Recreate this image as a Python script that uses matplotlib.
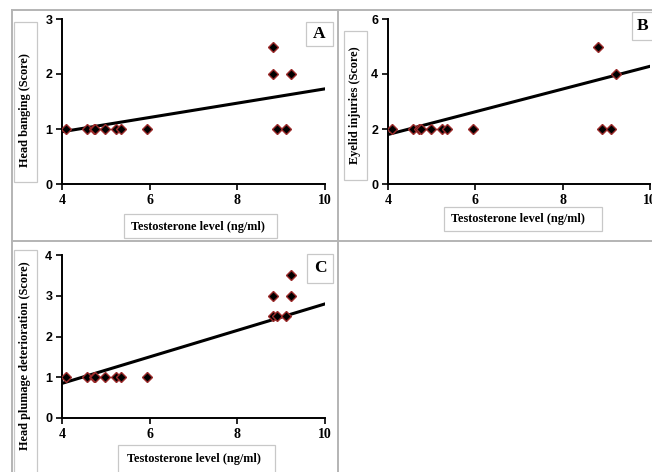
import matplotlib
matplotlib.use("Agg")
import matplotlib.pyplot as plt
from matplotlib.patches import Rectangle
from matplotlib.lines import Line2D

# Testosterone (ng/ml) vs behaviour scores
testo_A = [4.09, 4.58, 4.72, 4.76, 4.99, 5.23, 5.34, 5.94, 8.82, 8.82, 8.91, 9.11, 9.22]
head_banging = [1, 1, 1, 1, 1, 1, 1, 1, 2.5, 2, 1, 1, 2]

testo_B = [4.09, 4.58, 4.72, 4.76, 4.99, 5.23, 5.34, 5.94, 8.82, 8.91, 9.11, 9.22]
eyelid = [2, 2, 2, 2, 2, 2, 2, 2, 5, 2, 2, 4]

testo_C = [4.09, 4.58, 4.72, 4.76, 4.99, 5.23, 5.34, 5.94, 8.82, 8.82, 8.91, 9.11, 9.22, 9.22]
plumage = [1, 1, 1, 1, 1, 1, 1, 1, 3, 2.5, 2.5, 2.5, 3.5, 3]

# linear trend lines (end points as drawn in the original)
trend_x = [4, 10]
trend_A = [0.95, 1.73]
trend_B = [1.80, 4.28]
trend_C = [0.85, 2.80]

xticks = [4, 6, 8, 10]
yticks_A = [0, 1, 2, 3]
yticks_B = [0, 2, 4, 6]
yticks_C = [0, 1, 2, 3, 4]

W, H = 652, 472
fig = plt.figure(figsize=(W / 100, H / 100), dpi=100)
fig.patch.set_facecolor("white")

serif = "Liberation Serif"
sans = "Liberation Sans"
grey = "#b4b4b4"


def px_axes(x0, y0, x1, y1):
    # pixel box (top-left origin) -> figure axes
    return fig.add_axes([x0 / W, 1 - y1 / H, (x1 - x0) / W, (y1 - y0) / H])


def px_rect(x0, y0, x1, y1, ec="#c8c8c8"):
    r = Rectangle((x0 / W, 1 - y1 / H), (x1 - x0) / W, (y1 - y0) / H,
                  transform=fig.transFigure, facecolor="white", edgecolor=ec, lw=0.9)
    fig.add_artist(r)


def px_line(xs, ys):
    fig.add_artist(Line2D([x / W for x in xs], [1 - y / H for y in ys],
                          transform=fig.transFigure, color=grey, lw=1.4))


def px_text(x, y, s, size=8.8, rot=0):
    fig.text(x / W, 1 - y / H, s, ha="center", va="center", rotation=rot,
             fontsize=size, fontweight="bold", family=serif)


# table-like frame around the panels
px_line([12, 652], [10, 10])
px_line([12, 652], [241, 241])
px_line([12, 12], [10, 472])
px_line([338, 338], [10, 472])


def panel(ax, xs, ys, tl, yticks, ymax):
    ax.plot(trend_x, tl, color="black", lw=2.2, zorder=2)
    ax.plot(xs, ys, linestyle="none", marker="D", ms=4.6, mfc="black",
            mec="#9c2b2b", mew=1.0, zorder=3)
    ax.set_xlim(4, 10)
    ax.set_ylim(0, ymax)
    ax.set_xticks(xticks)
    ax.set_yticks(yticks)
    ax.set_facecolor("none")
    for s in ["top", "right"]:
        ax.spines[s].set_visible(False)
    for s in ["left", "bottom"]:
        ax.spines[s].set_linewidth(1.4)
    ax.tick_params(direction="out", length=4, width=1.2, pad=3)
    for lab in ax.get_xticklabels():
        lab.set_fontfamily(serif)
        lab.set_fontweight("bold")
        lab.set_fontsize(10)
    for lab in ax.get_yticklabels():
        lab.set_fontfamily(sans)
        lab.set_fontweight("bold")
        lab.set_fontsize(9)


# panel A
axA = px_axes(62, 19, 325, 184)
panel(axA, testo_A, head_banging, trend_A, yticks_A, 3)
px_rect(14, 22, 37, 182)
px_text(25, 110, "Head banging (Score)", rot=90)
px_rect(124, 214, 277, 238)
px_text(198, 227, "Testosterone level (ng/ml)")
px_rect(306, 22, 333, 46)
px_text(319, 34, "A", size=12.5)

# panel B
axB = px_axes(388, 19, 650, 184)
panel(axB, testo_B, eyelid, trend_B, yticks_B, 6)
px_rect(344, 31, 367, 180)
px_text(355, 105, "Eyelid injuries (Score)", rot=90)
px_rect(444, 207, 602, 231)
px_text(518, 219, "Testosterone level (ng/ml)")
px_rect(632, 12, 660, 40)
px_text(643, 26, "B", size=12.5)

# panel C
axC = px_axes(62, 255, 325, 418)
panel(axC, testo_C, plumage, trend_C, yticks_C, 4)
px_rect(14, 250, 37, 480)
px_text(25, 356, "Head plumage deterioration (Score)", rot=90)
px_rect(118, 445, 275, 480)
px_text(194, 459, "Testosterone level (ng/ml)")
px_rect(307, 254, 333, 283)
px_text(320, 268, "C", size=12.5)

fig.savefig("out.png", dpi=100, facecolor="white")
